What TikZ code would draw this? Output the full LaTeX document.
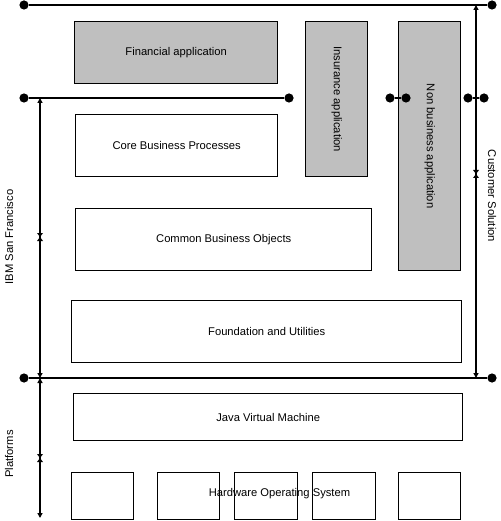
\documentclass[tikz,border=0pt]{standalone}
\usepackage{fontspec}
\setmainfont{Liberation Sans}
\usetikzlibrary{arrows.meta}
\begin{document}
\begin{tikzpicture}[x=1pt,y=-1pt,
  font=\fontsize{11.2}{13.4}\selectfont,
  box/.style={draw, line width=1.4pt, inner sep=0pt, anchor=north west},
  app/.style={box, fill=black!25},
  ln/.style={line width=1.4pt},
  dim/.style={line width=1.3pt, {Triangle[length=5pt,width=5pt]}-{Triangle[length=5pt,width=5pt]}},
  dot/.style={circle, fill=black, inner sep=0pt, minimum size=9.2pt},
  hg/.pic={\fill (-3,-4) -- (3,-4) -- (0,0) -- cycle;
           \fill (-3,4) -- (3,4) -- (0,0) -- cycle;}
]
\useasboundingbox (0,0) rectangle (500,521);

% application boxes
\node[app, minimum width=203pt, minimum height=62pt] (fin) at (74,21) {Financial application};
\node[app, minimum width=62pt, minimum height=155pt] (ins) at (305,21) {\rotatebox{-90}{Insurance application}};
\node[app, minimum width=62pt, minimum height=249pt] (nonb) at (398,21) {\rotatebox{-90}{Non business application}};

% IBM San Francisco layers
\node[box, minimum width=202pt, minimum height=62pt] (cbp) at (75,114) {Core Business Processes};
\node[box, minimum width=296pt, minimum height=62pt] (cbo) at (75,208) {Common Business Objects};
\node[box, minimum width=390pt, minimum height=62pt] (fu) at (71,300) {Foundation and Utilities};

% platforms
\node[box, minimum width=389pt, minimum height=47pt] (jvm) at (73,393) {Java Virtual Machine};
\node (hos) at (279.5,494) {Hardware Operating System};
\node[box, minimum width=62pt, minimum height=47pt] (hw1) at (71,472) {};
\node[box, minimum width=62pt, minimum height=47pt] (hw2) at (157,472) {};
\node[box, minimum width=63pt, minimum height=47pt] (hw3) at (234,472) {};
\node[box, minimum width=63pt, minimum height=47pt] (hw4) at (312,472) {};
\node[box, minimum width=62pt, minimum height=47pt] (hw5) at (398,472) {};

% horizontal rules with dots
\node[dot] (t1) at (24,5) {};
\node[dot] (t2) at (492,5) {};
\draw[ln] (t1) -- (t2);
\node[dot] (m1) at (24,98) {};
\node[dot] (m2) at (289,98) {};
\draw[ln] (m1) -- (m2);
\node[dot] (a1) at (390,98) {};
\node[dot] (a2) at (406,98) {};
\draw[ln] (a1) -- (a2);
\node[dot] (b1) at (468,98) {};
\node[dot] (b2) at (484,98) {};
\draw[ln] (b1) -- (b2);
\node[dot] (bo1) at (24,378) {};
\node[dot] (bo2) at (492,378) {};
\draw[ln] (bo1) -- (bo2);

% dimension lines
\coordinate (csT) at (476,5);
\coordinate (csB) at (476,378);
\draw[dim] (csT) -- (csB);
\pic at (476,174) {hg};
\coordinate (ibT) at (40,98);
\coordinate (ibB) at (40,378);
\draw[dim] (ibT) -- (ibB);
\pic at (40,237) {hg};
\coordinate (plT) at (40,378);
\coordinate (plB) at (40,518);
\draw[dim] (plT) -- (plB);
\pic at (40,458) {hg};

% side labels
\node[rotate=90] (ibm) at (9,237) {IBM San Francisco};
\node[rotate=90] (plat) at (9,454) {Platforms};
\node[rotate=-90] (cs) at (492,196) {Customer Solution};
\end{tikzpicture}
\end{document}
